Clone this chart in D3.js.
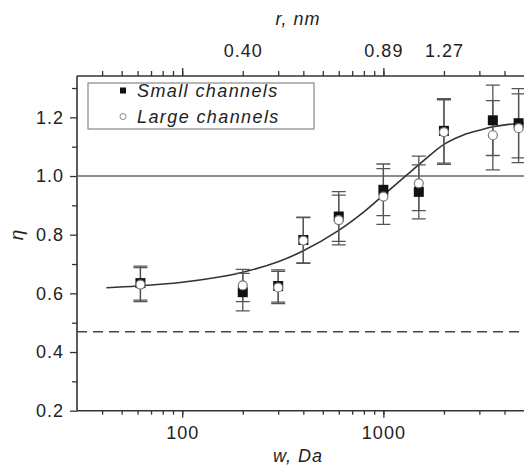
<!DOCTYPE html>
<html>
<head>
<meta charset="utf-8">
<script src="https://cdn.jsdelivr.net/npm/d3@7"></script>
<style>
  body { margin: 0; background: #fff; }
  text { font-family: "Liberation Sans", Arial, sans-serif; fill: #222; }
</style>
</head>
<body>
<div id="chart"></div>
<script>
// molecular weight of the probes, Da
const wValues = [62, 200, 300, 400, 600, 1000, 1500, 2000, 3500, 4700];
const smallEta = [0.635, 0.604, 0.625, 0.782, 0.862, 0.953, 0.946, 1.154, 1.190, 1.180];
const smallErr = [0.058, 0.064, 0.055, 0.078, 0.085, 0.088, 0.092, 0.110, 0.120, 0.118];
const largeEta = [0.630, 0.627, 0.620, 0.780, 0.850, 0.930, 0.975, 1.150, 1.139, 1.163];
const largeErr = [0.058, 0.055, 0.055, 0.078, 0.085, 0.095, 0.093, 0.110, 0.118, 0.117];

// fitted curve
const fitW = [42, 60, 100, 150, 200, 300, 400, 600, 800, 1000, 1300, 1600, 2000, 2500, 3000, 3500, 4200, 5000];
const fitEta = [0.619, 0.625, 0.638, 0.655, 0.672, 0.708, 0.745, 0.815, 0.878, 0.935, 1.002, 1.055, 1.108, 1.140, 1.156, 1.168, 1.176, 1.180];

const refLine = 1.0;
const dashLine = 0.469;

const xTicks = [40, 50, 60, 70, 80, 90, 100, 200, 300, 400, 500, 600, 700, 800, 900, 1000, 2000, 3000, 4000];
const xMajor = [100, 1000];
const rTickW = [200, 1000, 2000];
const rTickLabels = ['0.40', '0.89', '1.27'];
const yMajor = [0.2, 0.4, 0.6, 0.8, 1.0, 1.2];
const yMinor = [0.3, 0.5, 0.7, 0.9, 1.1, 1.3];

const W = 524, H = 466;
const pLeft = 77, pRight = 524, pTop = 76, pBottom = 410.7;

const x = d3.scaleLog([30, 5000], [pLeft, pRight]);
const y = d3.scaleLinear([0.2, 1.341], [pBottom, pTop]);

const svg = d3.select('#chart').append('svg')
  .attr('width', W)
  .attr('height', H);

svg.append('rect').attr('width', W).attr('height', H).attr('fill', '#fff');

svg.append('clipPath').attr('id', 'plot')
  .append('rect')
  .attr('x', pLeft).attr('y', pTop)
  .attr('width', pRight - pLeft).attr('height', pBottom - pTop);

const styleAxis = (g, size) => {
  g.select('.domain').remove();
  g.selectAll('line').attr('stroke', '#333').attr('stroke-width', 1.3);
  g.selectAll('text')
    .style('font-size', size + 'px')
    .style('letter-spacing', '1px')
    .attr('fill', '#222');
};

// bottom axis
const gb = svg.append('g').attr('transform', `translate(0,${pBottom})`);
gb.call(d3.axisBottom(x).tickValues(xTicks).tickSize(4).tickFormat(''));
styleAxis(gb, 18);
const gb2 = svg.append('g').attr('transform', `translate(0,${pBottom})`);
gb2.call(d3.axisBottom(x).tickValues(xMajor).tickSize(7).tickPadding(9).tickFormat(d3.format('d')));
styleAxis(gb2, 18);

// top axis, radius in nm
const gt = svg.append('g').attr('transform', `translate(0,${pTop})`);
gt.call(d3.axisTop(x).tickValues(xTicks).tickSize(5).tickFormat(''));
styleAxis(gt, 18);
const gt2 = svg.append('g').attr('transform', `translate(0,${pTop})`);
gt2.call(d3.axisTop(x).tickValues(xMajor).tickSize(8).tickFormat(''));
styleAxis(gt2, 18);
const gt3 = svg.append('g').attr('transform', `translate(0,${pTop})`);
gt3.call(d3.axisTop(x).tickValues(rTickW).tickSize(0).tickPadding(19)
  .tickFormat((d, i) => rTickLabels[i]));
styleAxis(gt3, 18);

// left axis
const gl = svg.append('g').attr('transform', `translate(${pLeft},0)`);
gl.call(d3.axisLeft(y).tickValues(yMinor).tickSize(5).tickFormat(''));
styleAxis(gl, 18);
const gl2 = svg.append('g').attr('transform', `translate(${pLeft},0)`);
gl2.call(d3.axisLeft(y).tickValues(yMajor).tickSize(7).tickPadding(6).tickFormat(d3.format('.1f')));
styleAxis(gl2, 18);

// frame lines
svg.append('line')
  .attr('x1', pLeft).attr('x2', pLeft).attr('y1', pTop).attr('y2', pBottom)
  .attr('stroke', '#333').attr('stroke-width', 1.6);
svg.append('line')
  .attr('x1', pLeft).attr('x2', pRight).attr('y1', pBottom).attr('y2', pBottom)
  .attr('stroke', '#333').attr('stroke-width', 1.6);
svg.append('line')
  .attr('x1', pLeft).attr('x2', pRight).attr('y1', pTop).attr('y2', pTop)
  .attr('stroke', '#333').attr('stroke-width', 1.6);

const plot = svg.append('g').attr('clip-path', 'url(#plot)');

plot.append('line')
  .attr('x1', pLeft).attr('x2', pRight)
  .attr('y1', y(refLine)).attr('y2', y(refLine))
  .attr('stroke', '#666').attr('stroke-width', 1.6);

plot.append('line')
  .attr('x1', pLeft).attr('x2', pRight)
  .attr('y1', y(dashLine)).attr('y2', y(dashLine))
  .attr('stroke', '#444').attr('stroke-width', 1.6)
  .attr('stroke-dasharray', '10,6');

// fit curve
const line = d3.line()
  .x((d, i) => x(fitW[i]))
  .y(d => y(d))
  .curve(d3.curveCatmullRom);
plot.append('path')
  .attr('d', line(fitEta))
  .attr('fill', 'none')
  .attr('stroke', '#333')
  .attr('stroke-width', 1.6);

// error bars
const errBars = (vals, errs) => {
  const g = plot.append('g').attr('stroke', '#555').attr('stroke-width', 1.3);
  wValues.forEach((w, i) => {
    const cx = x(w);
    const y1 = y(vals[i] + errs[i]), y2 = y(vals[i] - errs[i]);
    g.append('line').attr('x1', cx).attr('x2', cx).attr('y1', y1).attr('y2', y2);
    g.append('line').attr('x1', cx - 7).attr('x2', cx + 7).attr('y1', y1).attr('y2', y1);
    g.append('line').attr('x1', cx - 7).attr('x2', cx + 7).attr('y1', y2).attr('y2', y2);
  });
};
errBars(smallEta, smallErr);
errBars(largeEta, largeErr);

plot.append('g').selectAll('rect')
  .data(smallEta)
  .join('rect')
    .attr('x', (d, i) => x(wValues[i]) - 5)
    .attr('y', d => y(d) - 5)
    .attr('width', 10)
    .attr('height', 10)
    .attr('fill', '#111');

plot.append('g').selectAll('circle')
  .data(largeEta)
  .join('circle')
    .attr('cx', (d, i) => x(wValues[i]))
    .attr('cy', d => y(d))
    .attr('r', 4.5)
    .attr('fill', '#fff')
    .attr('stroke', '#777')
    .attr('stroke-width', 1.2);

// legend
svg.append('rect')
  .attr('x', 88).attr('y', 83)
  .attr('width', 226).attr('height', 46)
  .attr('fill', '#fff')
  .attr('stroke', '#888')
  .attr('stroke-width', 1.2);
svg.append('rect')
  .attr('x', 120).attr('y', 87.5).attr('width', 6).attr('height', 6)
  .attr('fill', '#111');
svg.append('circle')
  .attr('cx', 123).attr('cy', 116.5).attr('r', 3)
  .attr('fill', '#fff').attr('stroke', '#888').attr('stroke-width', 1);
svg.append('text')
  .attr('x', 137).attr('y', 97)
  .style('font-size', '18px').style('font-style', 'italic').style('letter-spacing', '1.4px')
  .text('Small channels');
svg.append('text')
  .attr('x', 137).attr('y', 123)
  .style('font-size', '18px').style('font-style', 'italic').style('letter-spacing', '1.4px')
  .text('Large channels');

// axis titles
svg.append('text')
  .attr('x', 298).attr('y', 462)
  .attr('text-anchor', 'middle')
  .style('font-size', '18px').style('font-style', 'italic').style('letter-spacing', '1px')
  .text('w, Da');
svg.append('text')
  .attr('x', 298).attr('y', 25)
  .attr('text-anchor', 'middle')
  .style('font-size', '18px').style('font-style', 'italic').style('letter-spacing', '1px')
  .text('r, nm');
svg.append('text')
  .attr('transform', 'translate(23,235) rotate(-90)')
  .attr('text-anchor', 'middle')
  .style('font-size', '19px').style('font-style', 'italic')
  .text('η');
</script>
</body>
</html>
